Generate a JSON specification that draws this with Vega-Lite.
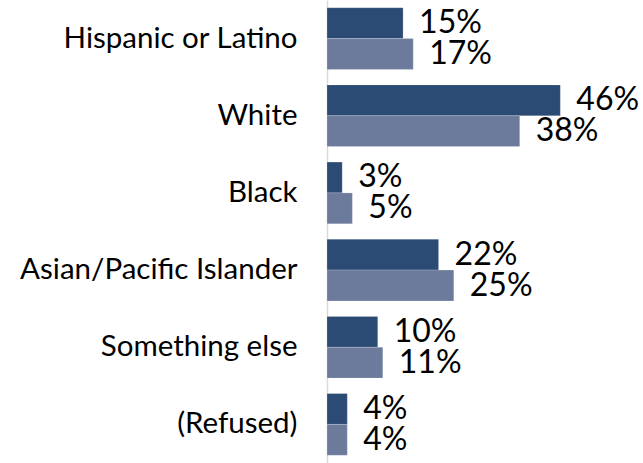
{
  "$schema": "https://vega.github.io/schema/vega-lite/v6.json",
  "autosize": "none",
  "width": 316,
  "height": 463,
  "padding": {"left": 327, "top": 0, "right": 0, "bottom": 0},
  "background": "white",
  "config": {"view": {"stroke": null}, "font": "Lato"},
  "data": {
    "values": [
      {"group": "Hispanic or Latino", "series": "A", "value": 15},
      {"group": "Hispanic or Latino", "series": "B", "value": 17},
      {"group": "White", "series": "A", "value": 46},
      {"group": "White", "series": "B", "value": 38},
      {"group": "Black", "series": "A", "value": 3},
      {"group": "Black", "series": "B", "value": 5},
      {"group": "Asian/Pacific Islander", "series": "A", "value": 22},
      {"group": "Asian/Pacific Islander", "series": "B", "value": 25},
      {"group": "Something else", "series": "A", "value": 10},
      {"group": "Something else", "series": "B", "value": 11},
      {"group": "(Refused)", "series": "A", "value": 4},
      {"group": "(Refused)", "series": "B", "value": 4}
    ]
  },
  "encoding": {
    "y": {
      "field": "group",
      "type": "nominal",
      "sort": null,
      "scale": {"paddingInner": 0.2, "paddingOuter": 0.1},
      "axis": {
        "title": null,
        "ticks": false,
        "labelPadding": 30,
        "labelFontSize": 29.5,
        "labelColor": "#000000",
        "labelLimit": 0,
        "domainColor": "#d9d9d9",
        "domainWidth": 1.5
      }
    },
    "yOffset": {"field": "series", "type": "nominal", "sort": ["A", "B"]},
    "x": {
      "field": "value",
      "type": "quantitative",
      "scale": {"domain": [0, 62.3], "nice": false},
      "axis": null
    }
  },
  "layer": [
    {
      "mark": {"type": "bar", "stroke": "#ffffff", "strokeWidth": 0.5, "strokeOpacity": 0.4},
      "encoding": {
        "color": {
          "field": "series",
          "type": "nominal",
          "scale": {"domain": ["A", "B"], "range": ["#2b4a74", "#6c7a9c"]},
          "legend": null
        }
      }
    },
    {
      "transform": [{"calculate": "datum.value + '%'", "as": "label"}],
      "mark": {"type": "text", "align": "left", "baseline": "middle", "dx": 16, "fontSize": 32, "color": "#000000"},
      "encoding": {
        "text": {"field": "label", "type": "nominal"}
      }
    }
  ]
}
